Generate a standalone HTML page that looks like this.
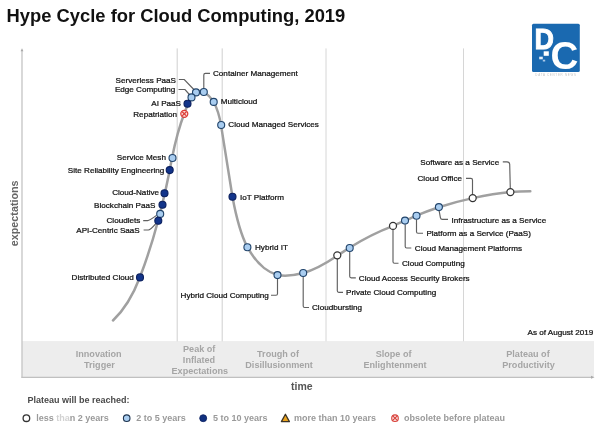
<!DOCTYPE html>
<html><head><meta charset="utf-8"><title>Hype Cycle for Cloud Computing, 2019</title>
<style>
html,body{margin:0;padding:0;background:#fff;}
body{width:600px;height:427px;overflow:hidden;font-family:"Liberation Sans",Arial,sans-serif;}
svg{display:block;filter:blur(0.45px);font-family:"Liberation Sans",Arial,sans-serif;}
.lb{font-size:8.12px;fill:#111;stroke:#111;stroke-width:0.24;}
.ph{font-size:9.08px;font-weight:bold;fill:#a5a5a5;text-anchor:middle;}
.lg{font-size:9px;font-weight:bold;fill:#9a9a9a;}
.ld{fill:none;stroke:#606060;stroke-width:1.15;}
.c{stroke:#21446b;stroke-width:1.12;}
.l{fill:#a9cdf0;}
.d{fill:#12348a;stroke:#0a1f5e;}
.w{fill:#fff;stroke:#333;stroke-width:1.25;}
</style></head>
<body>
<svg width="600" height="427" viewBox="0 0 600 427">
<rect width="600" height="427" fill="#fff"/>
<!-- title -->
<text x="6.6" y="22.4" font-size="18.36" font-weight="bold" fill="#111">Hype Cycle for Cloud Computing, 2019</text>

<!-- logo -->
<g id="logo">
<rect x="532" y="23.7" width="47.8" height="48.3" rx="1.5" fill="#1a69b0"/>
<text transform="translate(534.6,48.5) scale(0.91,1)" font-size="29.6" font-weight="bold" fill="#fff" stroke="#fff" stroke-width="0.9">D</text>
<text x="550.4" y="68.5" font-size="38.6" font-weight="bold" fill="#fff">C</text>
<rect x="543.7" y="51.3" width="5.1" height="4.5" fill="#fff"/>
<rect x="539.2" y="56.7" width="3.6" height="2.6" fill="#e4eef8"/>
<rect x="542.8" y="59.7" width="2.4" height="1.8" fill="#a8c8e8"/>
<text x="556" y="76.4" font-size="2.9" fill="#c2c2c2" text-anchor="middle" letter-spacing="0.75">DATA CENTER NEWS</text>
</g>

<!-- phase band -->
<rect x="22" y="341.1" width="572" height="36.3" fill="#ededed"/>
<!-- vertical dividers -->
<g stroke="#cfcfcf" stroke-width="1">
<line x1="177.2" y1="48.4" x2="177.2" y2="341.3"/>
<line x1="222.2" y1="48.4" x2="222.2" y2="341.3"/>
<line stroke="#d6d6d6" x1="326" y1="48.4" x2="326" y2="341.3"/>
<line stroke="#d6d6d6" x1="463.5" y1="48.4" x2="463.5" y2="341.3"/>
</g>
<!-- axes -->
<line x1="22" y1="50" x2="22" y2="377.5" stroke="#c4c4c4" stroke-width="1.3"/>
<path d="M20.6 51.3 L22 48.2 L23.4 51.3 Z" fill="#a8a8a8"/>
<line x1="21.3" y1="377.4" x2="592" y2="377.4" stroke="#c0c0c0" stroke-width="1.4"/>
<path d="M591 375.8 L594.5 377.3 L591 378.8 Z" fill="#aaa"/>

<!-- axis labels -->
<text transform="translate(18.2,213.3) rotate(-90)" font-size="10.75" font-weight="bold" fill="#666" text-anchor="middle">expectations</text>
<text x="301.8" y="390.3" font-size="10.5" font-weight="bold" fill="#555" text-anchor="middle">time</text>

<!-- phase labels -->
<text class="ph" x="98.7" y="356.7">Innovation</text>
<text class="ph" x="99.4" y="367.7">Trigger</text>
<text class="ph" x="199.2" y="351.6">Peak of</text>
<text class="ph" x="199" y="362.7">Inflated</text>
<text class="ph" x="199.8" y="373.7">Expectations</text>
<text class="ph" x="278" y="356.9">Trough of</text>
<text class="ph" x="279.1" y="367.9">Disillusionment</text>
<text class="ph" x="393.6" y="356.9">Slope of</text>
<text class="ph" x="395" y="367.9">Enlightenment</text>
<text class="ph" x="528" y="356.9">Plateau of</text>
<text class="ph" x="528.5" y="367.9">Productivity</text>

<text class="lb" x="593.3" y="335" text-anchor="end">As of August 2019</text>

<!-- curve -->
<path id="curve" d="M113 320.5 C122 312 132 298 140 277 C148 256 153 240 158 221 C164 198 169 175 172 158 C176 138 181 122 184.5 113 C188 103 192 95 196 92.3 C199 90.6 202 90.6 204 92 C208 94.5 211 98 213.5 101.5 C217 108 219.5 116 221 125 C225 150 229 176 232.5 197 C236 216 241 235 247.4 247.2 C254 259 264 271.3 277.5 275 C286 276.6 295 275.2 303.2 273 C315.3 270 327.3 262.5 337.3 255.8 C341.3 253 345.3 250.5 349.5 247.7 C364.3 238.5 378.3 231.5 392.7 226.1 C396.3 224.5 400.3 222.5 404.7 220.9 C408.3 219.5 412.3 217.3 416.3 215.7 C423.3 212.8 431.3 209.8 438.7 207.3 C450.3 203.5 461.3 200.5 472.7 198.1 C485.3 195.5 498.3 193.3 510.7 192.1 C517.3 191.5 524.3 191.3 530.3 191.3" fill="none" stroke="#a0a0a0" stroke-width="2.5" stroke-linecap="round"/>

<!-- leaders -->
<g class="ld">
<path d="M178.8 79.5 H184.3 L194.3 90"/>
<path d="M178.5 89.5 H185 L189.8 95"/>
<path d="M210 73.4 H205.4 Q203.8 73.4 203.8 75 V88.4"/>
<path d="M143.2 220.6 H147.6 Q149.6 220.6 156.5 215.4"/>
<path d="M143.6 230 H148.3 Q150.3 230 155.6 223.8"/>
<path d="M277.5 278.5 V293.7 Q277.5 295.2 276 295.2 H271"/>
<path d="M303.2 276.5 V306 Q303.2 307.5 304.7 307.5 H309"/>
<path d="M337.3 259 V290.8 Q337.3 292.3 338.8 292.3 H343"/>
<path d="M349.7 251.5 V276.3 Q349.7 277.8 351.2 277.8 H355.8"/>
<path d="M393 229.5 V261.7 Q393 263.2 394.5 263.2 H398.5"/>
<path d="M405.2 224.5 V246.5 Q405.2 248 406.7 248 H411.3"/>
<path d="M416.5 219.5 V231.7 Q416.5 233.2 418 233.2 H423"/>
<path d="M439.1 210.5 L440.4 217.6 Q440.7 219.4 442.4 219.4 H448"/>
<path d="M466 178.4 H470.8 Q472.5 178.4 472.5 180 V194.5"/>
<path d="M502.8 161.8 H507 Q509.5 161.8 509.7 164.3 L510.3 188.5"/>
</g>

<!-- dots -->
<g class="c">
<circle class="l" cx="203.8" cy="92" r="3.5"/>
<circle class="l" cx="196" cy="92.4" r="3.5"/>
<circle class="l" cx="191.5" cy="97.4" r="3.5"/>
<circle class="d" cx="187.5" cy="103.8" r="3.5"/>
<circle class="l" cx="213.7" cy="101.9" r="3.5"/>
<circle class="l" cx="221.2" cy="125" r="3.5"/>
<circle class="l" cx="172.5" cy="158" r="3.5"/>
<circle class="d" cx="169.7" cy="170.1" r="3.5"/>
<circle class="d" cx="164.5" cy="193.2" r="3.5"/>
<circle class="d" cx="162.5" cy="204.8" r="3.5"/>
<circle class="l" cx="160.2" cy="213.9" r="3.5"/>
<circle class="d" cx="158.3" cy="220.7" r="3.5"/>
<circle class="d" cx="140" cy="277.4" r="3.5"/>
<circle class="d" cx="232.5" cy="196.8" r="3.5"/>
<circle class="l" cx="247.4" cy="247.2" r="3.5"/>
<circle class="l" cx="277.5" cy="275.1" r="3.5"/>
<circle class="l" cx="303.2" cy="273" r="3.5"/>
<circle class="w" cx="337.3" cy="255.3" r="3.5"/>
<circle class="l" cx="349.7" cy="248" r="3.5"/>
<circle class="w" cx="393" cy="225.9" r="3.5"/>
<circle class="l" cx="405" cy="220.6" r="3.5"/>
<circle class="l" cx="416.5" cy="215.7" r="3.5"/>
<circle class="l" cx="438.9" cy="207.1" r="3.5"/>
<circle class="w" cx="472.7" cy="198.1" r="3.5"/>
<circle class="w" cx="510.4" cy="192.1" r="3.5"/>
</g>
<!-- repatriation (obsolete) -->
<g stroke="#dc3c36" stroke-width="1.25" fill="#fbdedb">
<circle cx="184.3" cy="113.8" r="3.5"/>
<path d="M182.2 111.7 L186.4 115.9 M186.4 111.7 L182.2 115.9" fill="none"/>
</g>

<!-- labels -->
<g class="lb">
<text x="176" y="82.8" text-anchor="end">Serverless PaaS</text>
<text x="175.3" y="92.3" text-anchor="end">Edge Computing</text>
<text x="181" y="106" text-anchor="end">AI PaaS</text>
<text x="177" y="116.6" text-anchor="end">Repatriation</text>
<text x="213" y="76.2">Container Management</text>
<text x="220.8" y="104.4">Multicloud</text>
<text x="228.3" y="127.2">Cloud Managed Services</text>
<text x="165.9" y="160.4" text-anchor="end">Service Mesh</text>
<text x="164.3" y="172.9" text-anchor="end">Site Reliability Engineering</text>
<text x="159" y="195.4" text-anchor="end">Cloud-Native</text>
<text x="155.4" y="208" text-anchor="end">Blockchain PaaS</text>
<text x="140.3" y="223.1" text-anchor="end">Cloudlets</text>
<text x="139.8" y="233.1" text-anchor="end">API-Centric SaaS</text>
<text x="133.8" y="279.8" text-anchor="end">Distributed Cloud</text>
<text x="240" y="199.8">IoT Platform</text>
<text x="255" y="250">Hybrid IT</text>
<text x="268.9" y="298.1" text-anchor="end">Hybrid Cloud Computing</text>
<text x="312" y="310">Cloudbursting</text>
<text x="346" y="295.2">Private Cloud Computing</text>
<text x="358.8" y="280.6">Cloud Access Security Brokers</text>
<text x="402" y="266">Cloud Computing</text>
<text x="414.8" y="250.8">Cloud Management Platforms</text>
<text x="426.4" y="236">Platform as a Service (PaaS)</text>
<text x="451.5" y="222.5">Infrastructure as a Service</text>
<text x="499.2" y="164.5" text-anchor="end">Software as a Service</text>
<text x="462" y="181.1" text-anchor="end">Cloud Office</text>
</g>

<!-- legend -->
<text x="27.5" y="403.2" font-size="9" font-weight="bold" fill="#4a4a4a">Plateau will be reached:</text>
<circle cx="26.4" cy="418.2" r="3.3" fill="#fff" stroke="#333" stroke-width="1.3"/>
<text class="lg" x="36.2" y="421.4">less <tspan fill="#d2d2d2">tha</tspan>n 2 years</text>
<circle cx="126.7" cy="418.2" r="3.3" fill="#a9cdf0" stroke="#1f3550" stroke-width="1.1"/>
<text class="lg" x="136.2" y="421.4">2 to 5 years</text>
<circle cx="203.2" cy="418.2" r="3.5" fill="#10307f" stroke="#0a2060" stroke-width="0.8"/>
<text class="lg" x="213" y="421.4">5 to 10 years</text>
<path d="M285.4 414.2 L289.4 421.6 H281.4 Z" fill="#eba31d" stroke="#3c3426" stroke-width="1.3" stroke-linejoin="round"/>
<text class="lg" x="294" y="421.4">more than 10 years</text>
<g stroke="#d8403a" stroke-width="1.1" fill="#fbe3e1">
<circle cx="395" cy="418.2" r="3.3"/>
<path d="M393 416.2 L397 420.2 M397 416.2 L393 420.2" fill="none"/>
</g>
<text class="lg" x="404" y="421.4">obsolete before plateau</text>
</svg>
</body></html>
